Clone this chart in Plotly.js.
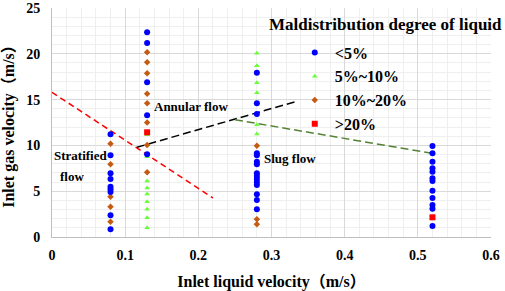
<!DOCTYPE html>
<html>
<head>
<meta charset="utf-8">
<script src="https://cdn.plot.ly/plotly-3.0.1.min.js"></script>
<style>html,body{margin:0;padding:0;background:#fff;}#chart{width:505px;height:291px;}</style>
</head>
<body>
<div id="chart"></div>
<script>
// Liquid velocity columns (m/s)
const columns = [0.08, 0.13, 0.28, 0.52];

// <5% (blue)
const low_008 = [11.21, 8.92, 6.95, 6.33, 5.49, 5.21, 4.91, 2.37, 0.84];
const low_013 = [22.35, 21.18, 16.89, 13.29, 9.03];
const low_028 = [17.94, 14.60, 13.43, 9.14, 8.92, 8.22, 7.94, 6.95, 6.66, 6.36, 6.00, 5.68, 4.66, 4.04, 3.02];
const low_052 = [9.93, 9.14, 8.22, 7.50, 7.13, 6.41, 6.11, 5.05, 4.26, 3.49, 3.09, 1.20];

// 5%~10% (green)
const mid_013 = [11.17, 8.77, 6.11, 5.35, 4.69, 3.85, 3.02, 2.11, 1.02];
const mid_028 = [20.05, 18.70, 16.84, 15.75, 12.25, 11.24];

// 10%~20% (orange)
const high_008 = [10.19, 7.94, 4.40, 3.31, 1.67];
const high_013 = [20.16, 19.07, 17.87, 15.64, 14.60, 12.50, 10.04, 7.06];
const high_028 = [9.97, 1.93, 1.39];

// >20% (red)
const severe_013 = [11.43];
const severe_052 = [2.15];

// Flow-pattern boundary lines
const redLineX = [0, 0.22];
const redLineY = [15.8, 4.26];
const blackLineX = [0.116, 0.3325];
const blackLineY = [9.79, 14.77];
const greenLineX = [0.25, 0.525];
const greenLineY = [12.8, 9.06];

const seriesNames = ['<5%', '5%~10%', '10%~20%', '>20%'];
const annotationTexts = ['Annular flow', 'Stratified', 'flow', 'Slug flow'];
const legendTitle = 'Maldistribution degree of liquid';

function flat(groups) {
  const xs = [], ys = [];
  groups.forEach(([x, arr]) => arr.forEach(v => { xs.push(x); ys.push(v); }));
  return {x: xs, y: ys};
}
const lowPts = flat([[columns[0], low_008], [columns[1], low_013], [columns[2], low_028], [columns[3], low_052]]);
const midPts = flat([[columns[1], mid_013], [columns[2], mid_028]]);
const highPts = flat([[columns[0], high_008], [columns[1], high_013], [columns[2], high_028]]);
const sevPts = flat([[columns[1], severe_013], [columns[3], severe_052]]);

const FONT = 'Liberation Serif';
const TFONT = 'Liberation Serif, Noto Sans CJK SC';

const traces = [
  {x: redLineX, y: redLineY, mode: 'lines', line: {color: '#ff0000', width: 1.5, dash: '6px,4px'}, showlegend: false, hoverinfo: 'skip'},
  {x: blackLineX, y: blackLineY, mode: 'lines', line: {color: '#000000', width: 1.5, dash: '8px,4px'}, showlegend: false, hoverinfo: 'skip'},
  {x: greenLineX, y: greenLineY, mode: 'lines', line: {color: '#548235', width: 1.5, dash: '8px,4px'}, showlegend: false, hoverinfo: 'skip'},
  {x: midPts.x, y: midPts.y, mode: 'markers', name: seriesNames[1], legendrank: 2,
   marker: {symbol: 'triangle-up', size: 5, color: '#66ff33'}},
  {x: highPts.x, y: highPts.y, mode: 'markers', name: seriesNames[2], legendrank: 3,
   marker: {symbol: 'diamond', size: 5, color: '#c55a11'}},
  {x: lowPts.x, y: lowPts.y, mode: 'markers', name: seriesNames[0], legendrank: 1,
   marker: {symbol: 'circle', size: 6, color: '#0000ff'}},
  {x: sevPts.x, y: sevPts.y, mode: 'markers', name: seriesNames[3], legendrank: 4,
   marker: {symbol: 'square', size: 6, color: '#ff0000'}}
];

const layout = {
  width: 505, height: 291,
  margin: {l: 52, r: 14, t: 8, b: 54},
  paper_bgcolor: '#ffffff', plot_bgcolor: '#ffffff',
  font: {family: FONT, color: '#000000'},
  xaxis: {
    range: [0, 0.6], dtick: 0.1, tick0: 0,
    showgrid: true, gridcolor: '#d9d9d9', gridwidth: 1,
    minor: {dtick: 0.02, showgrid: true, gridcolor: '#efefef', gridwidth: 1},
    zeroline: false, showline: true, linecolor: '#bfbfbf', linewidth: 1,
    ticks: '', ticklabelstandoff: 5,
    tickfont: {family: FONT, size: 14, weight: 700, color: '#000000'},
    title: {text: 'Inlet liquid velocity（m/s）', font: {family: TFONT, size: 16, weight: 700}, standoff: 17}
  },
  yaxis: {
    range: [0, 25], dtick: 5, tick0: 0,
    showgrid: true, gridcolor: '#d9d9d9', gridwidth: 1,
    minor: {dtick: 1, showgrid: true, gridcolor: '#efefef', gridwidth: 1},
    zeroline: false, showline: true, linecolor: '#bfbfbf', linewidth: 1,
    ticks: '', ticklabelstandoff: 8,
    tickfont: {family: FONT, size: 14, weight: 700, color: '#000000'},
    title: {text: 'Inlet gas velocity（m/s）', font: {family: TFONT, size: 16, weight: 700}, standoff: 8}
  },
  legend: {
    x: 0.553, y: 0.88, xanchor: 'left', yanchor: 'top',
    bgcolor: 'rgba(0,0,0,0)', borderwidth: 0,
    font: {family: FONT, size: 16, weight: 700},
    tracegroupgap: 0, itemwidth: 30
  },
  showlegend: true,
  annotations: [
    {text: legendTitle, xref: 'paper', yref: 'paper', x: 0.759, y: 0.926, xanchor: 'center', yanchor: 'middle', showarrow: false,
     font: {family: FONT, size: 17, weight: 700}},
    {text: annotationTexts[0], xref: 'x', yref: 'y', x: 0.137, y: 14.2, xanchor: 'left', yanchor: 'middle', showarrow: false,
     font: {family: FONT, size: 13, weight: 700}},
    {text: annotationTexts[1], xref: 'x', yref: 'y', x: 0.0, y: 8.9, xanchor: 'left', yanchor: 'middle', showarrow: false,
     font: {family: FONT, size: 13, weight: 700}},
    {text: annotationTexts[2], xref: 'x', yref: 'y', x: 0.008, y: 6.6, xanchor: 'left', yanchor: 'middle', showarrow: false,
     font: {family: FONT, size: 13, weight: 700}},
    {text: annotationTexts[3], xref: 'x', yref: 'y', x: 0.287, y: 8.6, xanchor: 'left', yanchor: 'middle', showarrow: false,
     font: {family: FONT, size: 13, weight: 700}}
  ]
};

Plotly.newPlot('chart', traces, layout, {displayModeBar: false, staticPlot: true});
</script>
</body>
</html>
